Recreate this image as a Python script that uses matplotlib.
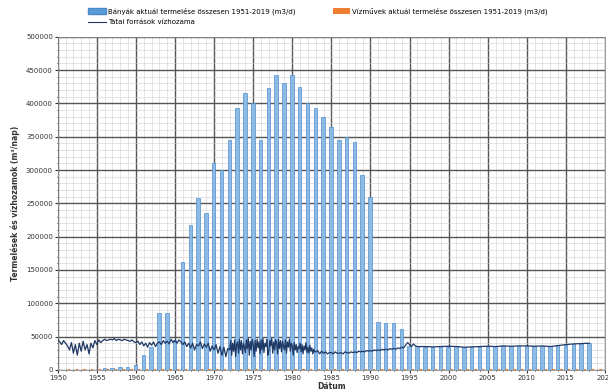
import numpy as np
import matplotlib
matplotlib.use("Agg")
import matplotlib.pyplot as plt
from matplotlib.patches import Patch
from matplotlib.lines import Line2D
from matplotlib.ticker import MultipleLocator

# ---- data ----
bar_years = list(range(1956, 2019))
bar_values = [
    3000, 3000, 4000, 5000, 8000,            # 1956-1960
    22500, 35000, 85000, 85000, 45000,       # 1961-1965
    162500, 217500, 257500, 236000, 310000,  # 1966-1970
    300000, 345000, 393500, 415000, 400000,  # 1971-1975
    345000, 422500, 442500, 431000, 442500,  # 1976-1980
    425000, 401000, 392500, 379000, 365000,  # 1981-1985
    345000, 349000, 342500, 292500, 260000,  # 1986-1990
    72500, 70000, 70000, 61000, 36000,       # 1991-1995
    36000, 35000, 35000, 35500, 35000,       # 1996-2000
    35500, 35000, 34000, 35000, 35500,       # 2001-2005
    36000, 35500, 36000, 36000, 36500,       # 2006-2010
    36000, 36500, 36000, 37000, 38000,       # 2011-2015
    39000, 39500, 40000,                     # 2016-2018
]
orange_years = list(range(1951, 2020))
orange_values = [1500] * len(orange_years)

# spring discharge (thousand m3/day), sampled quarterly / 8 per year / yearly
line_a = [  # 1950-1971 quarterly
    45, 42, 38, 44, 40, 36, 30, 41, 25, 38, 22, 40, 28, 43, 30, 38,
    24, 40, 33, 44, 38, 45, 41, 44, 46, 44, 45, 46, 45, 47, 44, 46,
    45, 44, 46, 45, 44, 43, 45, 42, 41, 43, 38, 42, 36, 40, 34, 41,
    37, 42, 35, 40, 42, 38, 44, 40, 43, 39, 46, 41, 44, 40, 45, 42,
    38, 42, 35, 40, 33, 40, 30, 38, 36, 42, 32, 39, 34, 40, 28, 36,
    30, 38, 25, 35, 22, 34, 20, 32,
]
line_b = [  # 1972-1982, 8 per year
    30, 44, 22, 40, 28, 45, 20, 38,
    42, 25, 46, 30, 44, 24, 40, 35,
    26, 45, 32, 47, 22, 43, 30, 46,
    38, 20, 44, 28, 46, 33, 42, 24,
    45, 30, 47, 26, 40, 35, 46, 22,
    28, 44, 36, 47, 25, 42, 30, 45,
    40, 24, 46, 32, 44, 27, 43, 36,
    30, 45, 25, 42, 34, 46, 28, 40,
    36, 22, 41, 30, 38, 26, 35, 32,
    40, 27, 38, 24, 36, 30, 41, 26,
    34, 25, 37, 28, 33, 24, 31, 27,
]
line_c = [  # 1983-1995 quarterly
    27, 29, 24, 28, 25, 27, 24, 26,
    26, 24, 27, 25, 25, 26, 24, 27, 26, 25, 27, 26, 27, 26, 28, 27,
    28, 27, 29, 28, 29, 28, 30, 29, 30, 29, 31, 30, 31, 30, 32, 31,
    32, 31, 33, 32, 34, 33, 37, 41, 38, 35, 39, 36,
]
line_d = [  # 1996-2018 yearly
    35, 35, 34.5, 35, 35.5, 35, 34, 34.5, 35, 35.5, 35, 36,
    35.5, 36, 36, 35.5, 36, 35, 36.5, 38, 39, 39.5, 40,
]

t_a = 1950 + np.arange(len(line_a)) * 0.25
t_b = 1972 + np.arange(len(line_b)) * 0.125
t_c = 1983 + np.arange(len(line_c)) * 0.25
t_d = 1996 + np.arange(len(line_d)) * 1.0
line_t = np.concatenate([t_a, t_b, t_c, t_d])
line_v = np.concatenate([line_a, line_b, line_c, line_d]) * 1000

x_ticks = list(range(1950, 2021, 5))
y_ticks = list(range(0, 500001, 50000))

label_blue = "Bányák aktuál termelése összesen 1951-2019 (m3/d)"
label_orange = "Vízművek aktuál termelése összesen 1951-2019 (m3/d)"
label_line = "Tatai források vízhozama"

# ---- figure ----
fig = plt.figure(figsize=(6.08, 3.91), dpi=100)
ax = fig.add_axes([0.095, 0.054, 0.900, 0.852])

ax.bar(np.array(bar_years) - 0.05, bar_values, width=0.45,
       color="#8dbbe6", edgecolor="#4f8fd0", linewidth=0.5, zorder=3)
ax.bar(np.array(orange_years) + 0.42, orange_values, width=0.3,
       color="#ed7d31", zorder=3)
ax.plot(line_t, line_v, color="#1f3864", linewidth=0.9, zorder=4)

ax.set_xlim(1950, 2020)
ax.set_ylim(0, 500000)
ax.set_xticks(x_ticks)
ax.set_xticklabels([str(v) for v in x_ticks])
ax.set_yticks(y_ticks)
ax.set_yticklabels([str(v) for v in y_ticks])
ax.xaxis.set_minor_locator(MultipleLocator(1))
ax.yaxis.set_minor_locator(MultipleLocator(10000))

ax.grid(which="major", color="#555555", linewidth=1.0, zorder=1)
ax.grid(which="minor", color="#cfcfcf", linewidth=0.4, zorder=0)
ax.set_axisbelow(True)
for s in ax.spines.values():
    s.set_color("#888888")
    s.set_linewidth(0.6)

ax.tick_params(axis="both", which="major", labelsize=5, length=2, pad=1.5,
               colors="#333333")
ax.tick_params(axis="both", which="minor", length=1)
ax.set_xlabel("Dátum", fontsize=5.5, fontweight="bold", labelpad=1, color="#333333")
ax.set_ylabel("Termelések és vízhozamok (m³/nap)", fontsize=5.5,
              fontweight="bold", labelpad=4, color="#333333")

h_blue = Patch(facecolor="#5b9bd5", edgecolor="#4a88c8")
h_orange = Patch(facecolor="#ed7d31")
h_line = Line2D([0], [0], color="#1f3864", linewidth=0.8)

leg1 = fig.legend([h_blue, h_line], [label_blue, label_line],
                  loc="upper left", bbox_to_anchor=(0.143, 0.985),
                  frameon=False, fontsize=5, handlelength=2.5,
                  handleheight=0.9, labelspacing=0.6, handletextpad=0.3,
                  borderaxespad=0, borderpad=0.2)
leg2 = fig.legend([h_orange], [label_orange],
                  loc="upper left", bbox_to_anchor=(0.545, 0.985),
                  frameon=False, fontsize=5, handlelength=2.5,
                  handleheight=0.9, handletextpad=0.3,
                  borderaxespad=0, borderpad=0.2)

fig.savefig("out.png", dpi=100)
